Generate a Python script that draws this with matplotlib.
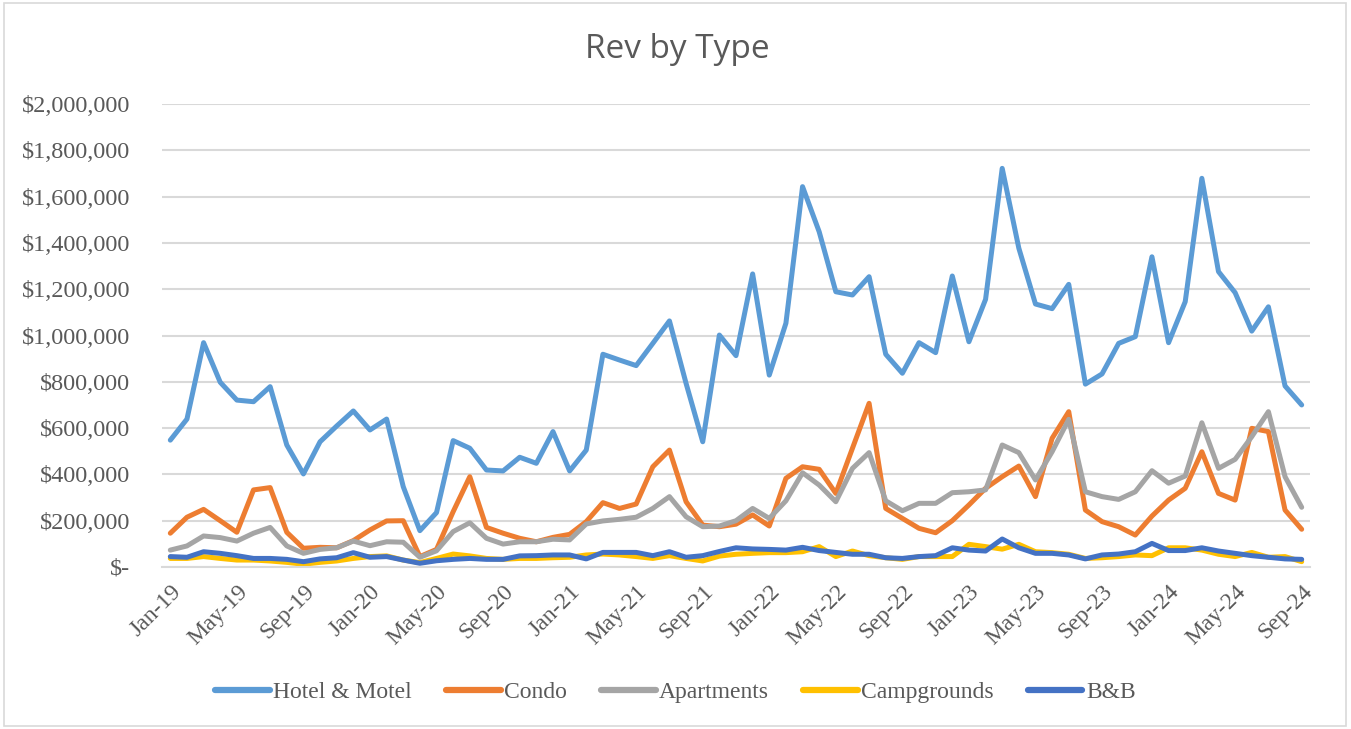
import pandas as pd
import matplotlib.pyplot as plt
from matplotlib.patches import Rectangle
from matplotlib.ticker import FuncFormatter

# Monthly revenue by lodging type, Jan-2019 .. Sep-2024 (values in $ thousands)
months = pd.date_range("2019-01-01", "2024-09-01", freq="MS").strftime("%b-%y").tolist()

hotel_motel = [548, 639, 969, 798, 721, 714, 779, 527, 402, 541, 609, 674,
               592, 639, 347, 157, 235, 546, 513, 419, 415, 474, 448, 585,
               415, 505, 919, 894, 870, 966, 1063, 793, 541, 1002, 913, 1266,
               829, 1053, 1643, 1448, 1189, 1175, 1254, 919, 837, 969, 926, 1257,
               973, 1156, 1722, 1377, 1136, 1116, 1221, 790, 834, 966, 995, 1340,
               969, 1146, 1679, 1276, 1185, 1019, 1124, 782, 700]
condo = [146, 215, 249, 200, 150, 333, 343, 150, 81, 85, 83, 114,
         160, 199, 200, 45, 76, 239, 390, 171, 146, 124, 109, 128,
         141, 196, 278, 253, 272, 433, 505, 282, 181, 174, 185, 225,
         177, 383, 433, 422, 318, 513, 707, 253, 210, 167, 148, 200,
         268, 340, 390, 436, 304, 556, 671, 246, 196, 174, 138, 220,
         289, 340, 498, 318, 289, 599, 585, 246, 163]
apartments = [73, 91, 134, 127, 112, 146, 171, 91, 59, 76, 83, 112,
              92, 109, 107, 42, 70, 153, 191, 124, 99, 109, 109, 120,
              117, 186, 199, 206, 215, 253, 304, 217, 174, 177, 200, 253,
              210, 286, 407, 354, 282, 426, 494, 286, 243, 275, 275, 321,
              325, 333, 527, 494, 376, 498, 638, 325, 304, 292, 325, 416,
              362, 393, 623, 426, 465, 563, 671, 390, 258]
campgrounds = [37, 37, 45, 37, 30, 30, 26, 20, 12, 20, 26, 37,
               45, 48, 30, 19, 37, 56, 48, 37, 33, 37, 37, 40,
               42, 52, 56, 52, 45, 37, 49, 37, 26, 47, 55, 59,
               62, 62, 66, 88, 45, 69, 49, 40, 33, 45, 45, 45,
               98, 88, 77, 98, 66, 62, 55, 37, 40, 45, 52, 49,
               83, 83, 73, 55, 45, 63, 42, 45, 23]
bnb = [45, 42, 66, 59, 49, 37, 37, 33, 23, 35, 40, 62,
       42, 45, 30, 16, 27, 33, 37, 33, 33, 48, 49, 52,
       52, 35, 63, 63, 63, 49, 66, 42, 49, 67, 83, 78,
       76, 73, 85, 71, 63, 55, 55, 40, 37, 45, 49, 83,
       73, 69, 121, 83, 59, 59, 52, 35, 52, 56, 66, 102,
       71, 71, 83, 69, 59, 49, 42, 35, 33]

series = [
    ("Hotel & Motel", hotel_motel, "#5B9BD5"),
    ("Condo", condo, "#ED7D31"),
    ("Apartments", apartments, "#A5A5A5"),
    ("Campgrounds", campgrounds, "#FFC000"),
    ("B&B", bnb, "#4472C4"),
]

TEXT = "#595959"
GRID = "#D9D9D9"
serif = "Liberation Serif"

fig = plt.figure(figsize=(13.51, 7.29), dpi=100)
ax = fig.add_axes([162 / 1351, 1 - 567 / 729, (1310 - 162) / 1351, (567 - 104) / 729])

x = list(range(len(months)))
for name, vals, col in series:
    ax.plot(x, [v * 1000 for v in vals], color=col, lw=3.6, label=name,
            solid_joinstyle="round", solid_capstyle="round")

ax.set_xlim(-0.5, len(months) - 0.5)
ax.set_ylim(0, 2_000_000)
ax.set_yticks(range(0, 2_000_001, 200_000))
ax.yaxis.set_major_formatter(FuncFormatter(lambda v, p: "$-" if v == 0 else f"${v:,.0f}"))
ax.grid(axis="y", color=GRID, lw=1.5)
ax.set_axisbelow(True)
for s in ["top", "right", "left"]:
    ax.spines[s].set_visible(False)
ax.spines["bottom"].set_color(GRID)
ax.spines["bottom"].set_linewidth(1.5)

ticks = x[::4]
ax.set_xticks(ticks)
ax.set_xticklabels([months[i] for i in ticks], rotation=45, ha="right",
                   rotation_mode="anchor", fontfamily=serif, fontsize=17, color=TEXT)
ax.tick_params(axis="x", length=0, pad=10)
ax.tick_params(axis="y", length=0, pad=23, labelsize=17.5, labelcolor=TEXT)
for lab in ax.get_yticklabels():
    lab.set_fontfamily(serif)

fig.text(0.501, 1 - 50 / 729, "Rev by Type", ha="center", va="center",
         fontsize=24, color=TEXT, fontfamily="Open Sans")

leg = fig.legend(loc="center", bbox_to_anchor=(0.5, 1 - 692 / 729), ncol=5,
                 frameon=False, handlelength=2.3, handletextpad=0.15, columnspacing=1.45,
                 prop={"family": serif, "size": 17})
for t in leg.get_texts():
    t.set_color(TEXT)
for h in leg.legend_handles:
    h.set_linewidth(4.5)

fig.patches.append(Rectangle((0.003, 0.004), 0.993, 0.992, transform=fig.transFigure,
                             fill=False, edgecolor=GRID, lw=1.2))

fig.savefig("out.png", dpi=100)
